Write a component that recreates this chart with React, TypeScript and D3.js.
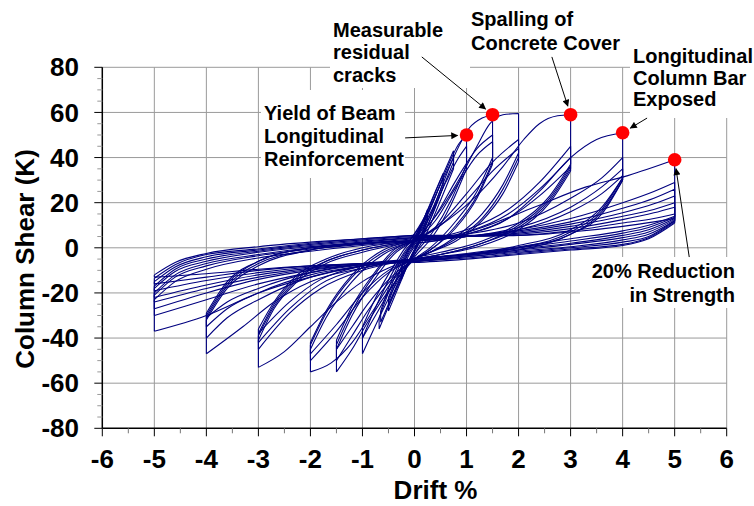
import React, { useMemo } from 'react'
import * as d3 from 'd3'

type Pt = [number, number]

// hysteresis cycles, grouped by target drift: [drift %, shear K]
// a repeated drift value means a vertical unloading step
const cycles025: Pt[][] = [
  [[-0.05, 0], [0.1, 8], [0.25, 17], [0.25, 14], [0.1, 4], [-0.05, -3], [-0.25, -14], [-0.25, -11], [-0.1, -3], [0.05, 2]],
  [[-0.05, 1], [0.1, 8], [0.25, 15], [0.25, 12], [0.1, 3], [-0.05, -3], [-0.25, -12], [-0.25, -9], [-0.1, -2], [0.05, 3]],
]

const cycles050: Pt[][] = [
  [[-0.05, 2], [0.2, 14], [0.4, 25], [0.55, 33], [0.55, 29], [0.35, 17], [0.1, 4], [-0.1, -6], [-0.3, -17], [-0.5, -28], [-0.5, -24], [-0.3, -12], [-0.1, -1], [0.05, 4]],
  [[-0.05, 3], [0.2, 13], [0.4, 23], [0.55, 31], [0.55, 27], [0.35, 15], [0.1, 3], [-0.1, -6], [-0.3, -16], [-0.5, -26], [-0.5, -22], [-0.3, -11], [-0.1, 0], [0.05, 4]],
]

const cycles075: Pt[][] = [
  [[-0.1, 3], [0.2, 14], [0.5, 30], [0.75, 43], [0.75, 38], [0.5, 24], [0.2, 7], [0, -2], [-0.3, -15], [-0.5, -26], [-0.68, -36], [-0.68, -31], [-0.45, -17], [-0.2, -4], [0, 3]],
  [[-0.1, 3], [0.2, 13], [0.5, 28], [0.75, 40], [0.75, 35], [0.5, 21], [0.2, 5], [0, -3], [-0.3, -15], [-0.5, -25], [-0.65, -33], [-0.65, -28], [-0.45, -15], [-0.2, -3], [0, 3]],
]

const cycles100: Pt[][] = [
  [[0, 3], [0.3, 17], [0.6, 34], [0.85, 46], [1, 50], [1, 37], [0.7, 21], [0.35, 7], [0, -3], [-0.4, -18], [-0.7, -32], [-1, -47], [-1, -40], [-0.7, -24], [-0.4, -10], [-0.1, 1], [0.1, 4]],
  [[0, 3], [0.3, 14], [0.6, 29], [0.85, 40], [1, 45], [1, 35], [0.7, 19], [0.35, 5], [0, -4], [-0.4, -16], [-0.7, -28], [-1, -40], [-1, -35], [-0.7, -20], [-0.4, -8], [-0.1, 2], [0.1, 4]],
]

const cycles150: Pt[][] = [
  [[0, 3], [0.4, 20], [0.75, 40], [1.05, 53], [1.3, 57.5], [1.5, 59], [1.5, 40], [1.2, 25], [0.8, 12], [0.3, 0], [0, -5], [-0.4, -16], [-0.9, -33], [-1.2, -45], [-1.5, -55], [-1.5, -45], [-1.2, -30], [-0.8, -15], [-0.4, -3], [0, 3]],
  [[0, 3], [0.4, 14], [0.8, 30], [1.2, 44], [1.5, 50], [1.5, 38], [1.2, 23], [0.8, 10], [0.3, -1], [0, -5], [-0.4, -13], [-0.9, -28], [-1.2, -39], [-1.5, -50], [-1.5, -43], [-1.2, -28], [-0.8, -13], [-0.4, -2], [0, 3]],
  [[0, 3], [0.4, 12], [0.8, 27], [1.2, 41], [1.5, 47], [1.5, 37], [1.2, 22], [0.8, 9], [0.3, -1], [0, -5], [-0.4, -12], [-0.9, -25], [-1.2, -35], [-1.5, -45], [-1.5, -41], [-1.2, -26], [-0.8, -12], [-0.4, -1], [0, 3]],
]

const cycles200: Pt[][] = [
  [[0, 3], [0.5, 17], [0.9, 32], [1.2, 45], [1.45, 55], [1.7, 59], [2, 59.5], [2, 42], [1.7, 28], [1.3, 15], [0.8, 5], [0.3, -2], [0, -5], [-0.4, -14], [-0.8, -28], [-1.2, -42], [-1.6, -51], [-2, -55], [-2, -45], [-1.7, -31], [-1.2, -15], [-0.6, -3], [0, 3]],
  [[0, 3], [0.5, 11], [1, 24], [1.5, 38], [2, 48], [2, 40], [1.7, 26], [1.3, 13], [0.8, 4], [0.3, -2], [0, -5], [-0.5, -11], [-1, -22], [-1.5, -37], [-2, -50], [-2, -43], [-1.7, -29], [-1.2, -13], [-0.6, -2], [0, 3]],
  [[0, 3], [0.5, 10], [1, 21], [1.5, 34], [2, 44], [2, 38], [1.7, 24], [1.3, 12], [0.8, 3], [0.3, -2], [0, -5], [-0.5, -10], [-1, -20], [-1.5, -34], [-2, -47], [-2, -42], [-1.7, -28], [-1.2, -12], [-0.6, -1], [0, 3]],
]

const cycles300: Pt[][] = [
  [[0, 3], [0.5, 10], [1.1, 21], [1.7, 36], [2.1, 48], [2.4, 55], [2.75, 58.5], [3, 59], [3, 37], [2.6, 23], [2, 11], [1.3, 3], [0.5, -2], [0, -4.5], [-0.5, -9], [-1, -15], [-1.5, -24], [-2, -35], [-2.5, -46], [-3, -53], [-3, -41], [-2.7, -27], [-2.3, -16], [-1.7, -7], [-1, -2], [0, 3]],
  [[0, 3], [1, 8], [1.8, 17], [2.4, 29], [3, 45], [3, 36], [2.6, 22], [2, 10], [1.3, 2], [0.5, -3], [0, -5], [-1, -10], [-1.8, -18], [-2.4, -29], [-3, -45], [-3, -39], [-2.7, -26], [-2.3, -15], [-1.7, -6], [-1, -1], [0, 3]],
  [[0, 3], [1, 7], [1.8, 15], [2.4, 26], [3, 40], [3, 35], [2.6, 21], [2, 9], [1.3, 2], [0.5, -3], [0, -5], [-1, -9], [-1.8, -16], [-2.4, -27], [-3, -42], [-3, -38], [-2.7, -25], [-2.3, -14], [-1.7, -6], [-1, -1], [0, 3]],
  [[0, 3], [1, 6], [1.8, 13], [2.4, 23], [3, 36], [3, 34], [2.6, 20], [2, 8], [1.3, 1], [0.5, -3], [0, -5], [-1, -8], [-1.8, -14], [-2.4, -24], [-3, -38], [-3, -36], [-2.7, -24], [-2.3, -13], [-1.7, -5], [-1, 0], [0, 3]],
]

const cycles400: Pt[][] = [
  [[0, 2], [1, 6], [1.8, 13], [2.4, 25], [3, 40], [3.5, 48], [4, 51], [4, 31], [3.6, 18], [3, 8], [2, 1], [1, -3], [0, -5], [-1, -9], [-2, -15], [-2.7, -24], [-3.3, -35], [-4, -47], [-4, -32], [-3.6, -18], [-3, -8], [-2, -1], [-1, 2], [0, 3]],
  [[0, 3], [1, 6], [2, 11], [3, 22], [3.6, 31], [4, 40], [4, 31], [3.6, 17], [3, 7], [2, 0], [1, -3], [0, -5], [-1, -8], [-2, -13], [-3, -23], [-3.6, -31], [-4, -40], [-4, -31], [-3.6, -17], [-3, -7], [-2, -1], [-1, 2], [0, 3]],
  [[0, 3], [1, 5], [2, 9], [3, 18], [3.6, 27], [4, 35], [4, 30], [3.6, 16], [3, 6], [2, 0], [1, -3], [0, -5], [-1, -8], [-2, -12], [-3, -20], [-3.6, -27], [-4, -35], [-4, -30], [-3.6, -16], [-3, -6], [-2, 0], [-1, 2], [0, 3]],
  [[0, 3], [1, 5], [2, 8], [3, 16], [3.6, 24], [4, 32], [4, 30], [3.6, 15], [3, 6], [2, -1], [1, -3], [0, -5], [-1, -7], [-2, -11], [-3, -18], [-3.6, -24], [-4, -31], [-4, -29], [-3.6, -15], [-3, -6], [-2, 0], [-1, 2], [0, 3]],
]

const cycles500: Pt[][] = [
  [[0, 2], [0.4, 3], [1.3, 9], [2.3, 18], [3.3, 27], [4.1, 32], [5, 39], [5, 14], [4.5, 10], [4, 7.5], [3, 4], [2, 0.5], [1, -2.5], [0, -5], [-1, -8], [-2, -13], [-3, -20], [-4, -30], [-5, -37], [-5, -23], [-4.6, -15], [-4, -9.5], [-3, -4.5], [-2, -1.5], [-1, 1], [0, 3]],
  [[0, 3], [1, 5], [2, 8], [3, 13], [4, 20], [4.6, 25], [5, 29], [5, 13.5], [4.5, 9], [4, 6.5], [3, 3], [2, 0], [1, -3], [0, -5.5], [-1, -7.5], [-2, -11], [-3, -16], [-4, -23], [-5, -30], [-5, -21], [-4.6, -13], [-4, -8], [-3, -3.5], [-2, -0.5], [-1, 1.5], [0, 3.5]],
  [[0, 3.5], [1, 5], [2, 7.5], [3, 11.5], [4, 17.5], [4.6, 22], [5, 26], [5, 13], [4.5, 8], [4, 5.5], [3, 2], [2, -0.5], [1, -3.5], [0, -5.5], [-1, -7.5], [-2, -10], [-3, -14], [-4, -20], [-5, -27], [-5, -20], [-4.6, -12], [-4, -7], [-3, -3], [-2, 0], [-1, 2], [0, 4]],
  [[0, 4], [1, 5], [2, 7], [3, 10.5], [4, 15.5], [4.6, 19.5], [5, 23], [5, 12.5], [4.5, 7], [4, 4.5], [3, 1.5], [2, -1], [1, -3.5], [0, -6], [-1, -7.5], [-2, -9.5], [-3, -13], [-4, -18], [-5, -24], [-5, -18], [-4.6, -10.5], [-4, -6], [-3, -2], [-2, 0.5], [-1, 2.5], [0, 4.5]],
  [[0, 4.5], [1, 5], [2, 6.5], [3, 9.5], [4, 14], [4.6, 17], [5, 20], [5, 12], [4.5, 6], [4, 3.5], [3, 0.5], [2, -1.5], [1, -4], [0, -6], [-1, -7], [-2, -9], [-3, -12], [-4, -16.5], [-5, -22], [-5, -17], [-4.6, -9.5], [-4, -5], [-3, -1.5], [-2, 1], [-1, 3], [0, 4.5]],
  [[0, 4.5], [1, 5], [2, 6], [3, 8.5], [4, 12.5], [4.6, 15.5], [5, 18], [5, 12], [4.5, 5], [4, 2.5], [3, 0], [2, -2], [1, -4], [0, -6], [-1, -7], [-2, -8.5], [-3, -11], [-4, -14.5], [-5, -19], [-5, -15], [-4.6, -8.5], [-4, -4], [-3, -1], [-2, 1.5], [-1, 3.5], [0, 5]],
  [[0, 5], [1, 5], [2, 5.5], [3, 7.5], [4, 11], [4.6, 13], [5, 15], [5, 11.5], [4.5, 4.5], [4, 1.5], [3, -0.5], [2, -2.5], [1, -4.5], [0, -6], [-1, -7], [-2, -8], [-3, -10], [-4, -13], [-5, -16], [-5, -13.5], [-4.6, -7.5], [-4, -3], [-3, -0.5], [-2, 2], [-1, 4], [0, 5.5]],
  [[0, 5.5], [1, 5.5], [2, 5.5], [3, 7], [4, 9.5], [4.6, 11.5], [5, 13], [5, 11], [4.5, 4], [4, 1], [3, -1], [2, -3], [1, -5], [0, -6.5], [-1, -7], [-2, -8], [-3, -9.5], [-4, -11.5], [-5, -13], [-5, -12], [-4.6, -6.5], [-4, -2.5], [-3, 0.5], [-2, 2.5], [-1, 4], [0, 5.5]],
]

const driftTicks = [-6, -5, -4, -3, -2, -1, 0, 1, 2, 3, 4, 5, 6]
const shearTicks = [-80, -60, -40, -20, 0, 20, 40, 60, 80]

// damage milestones (red dots) and where their callout arrows start
const milestoneDrift = [1, 1.5, 3, 4, 5]
const milestoneShear = [50, 59, 59, 51, 39]
const calloutTail: Pt[] = [[-0.18, 48.7], [0.14, 84.6], [2.64, 84.6], [4.47, 57.5], [5.28, -4.1]]

const notes = [
  { lines: ['Yield of Beam', 'Longitudinal', 'Reinforcement'], x: 264, y: 120, dy: 23, anchor: 'start', box: [261, 90, 144, 88] },
  { lines: ['Measurable', 'residual', 'cracks'], x: 333, y: 36.5, dy: 22.6, anchor: 'start', box: [330, 8, 140, 80] },
  { lines: ['Spalling of', 'Concrete Cover'], x: 471, y: 26, dy: 24, anchor: 'start', box: null },
  { lines: ['Longitudinal', 'Column Bar', 'Exposed'], x: 633, y: 63, dy: 21.5, anchor: 'start', box: [630, 40, 120, 78] },
  { lines: ['20% Reduction', 'in Strength'], x: 735, y: 278, dy: 23.5, anchor: 'end', box: [580, 257, 160, 51] },
]

const FONT = '"Liberation Sans", Arial, Helvetica, sans-serif'
const LINE = '#00007f'

export default function App() {
  const width = 754
  const height = 506

  const x = d3.scaleLinear().domain([-6, 6]).range([102.3, 726.7])
  const y = d3.scaleLinear().domain([-80, 80]).range([428.3, 67.3])

  const paths = useMemo(() => {
    const curve = d3
      .line<Pt>()
      .x((d) => x(d[0]))
      .y((d) => y(d[1]))
      .curve(d3.curveMonotoneX)

    const cyclePath = (pts: Pt[]) => {
      let d = ''
      let run: Pt[] = [pts[0]]
      for (let i = 1; i < pts.length; i++) {
        const p = pts[i]
        const prev = pts[i - 1]
        if (p[0] === prev[0]) {
          // vertical unloading step
          if (run.length > 1) d += curve(run)
          d += `M${x(prev[0])},${y(prev[1])}L${x(p[0])},${y(p[1])}`
          run = [p]
        } else {
          run.push(p)
        }
      }
      if (run.length > 1) d += curve(run)
      return d
    }

    const all = [
      ...cycles025, ...cycles050, ...cycles075, ...cycles100, ...cycles150,
      ...cycles200, ...cycles300, ...cycles400, ...cycles500,
    ]
    return all.map(cyclePath)
  }, [])

  const minorY = d3.range(-80, 81, 5).filter((v) => v % 20 !== 0)
  const minorX = d3.range(-5.5, 6, 1)

  const arrows = milestoneDrift.map((d, i) => {
    const hx = x(d)
    const hy = y(milestoneShear[i])
    const tx = x(calloutTail[i][0])
    const ty = y(calloutTail[i][1])
    const len = Math.hypot(hx - tx, hy - ty)
    const k = (len - 9) / len
    return { x1: tx, y1: ty, x2: tx + (hx - tx) * k, y2: ty + (hy - ty) * k }
  })

  return (
    <div style={{ position: 'absolute', left: 0, top: 0 }}>
      <svg width={width} height={height} style={{ display: 'block', background: '#fff' }}>
        <defs>
          <marker id="arrowhead" viewBox="0 0 10 10" refX="9" refY="5" markerWidth="9" markerHeight="7" orient="auto" markerUnits="userSpaceOnUse">
            <path d="M0,0L10,5L0,10z" fill="#000" />
          </marker>
        </defs>

        {/* grid */}
        <g stroke="#9a9a9a" strokeWidth={1}>
          {driftTicks.filter((t) => t > -6).map((t) => (
            <line key={`gx${t}`} x1={x(t)} x2={x(t)} y1={y(-80)} y2={y(80)} />
          ))}
          {shearTicks.filter((t) => t > -80).map((t) => (
            <line key={`gy${t}`} x1={x(-6)} x2={x(6)} y1={y(t)} y2={y(t)} />
          ))}
        </g>

        {/* white boxes behind the callout text */}
        {notes.map((n, i) =>
          n.box ? <rect key={`b${i}`} x={n.box[0]} y={n.box[1]} width={n.box[2]} height={n.box[3]} fill="#fff" /> : null
        )}

        {/* hysteresis loops */}
        <g fill="none" stroke={LINE} strokeWidth={1.1}>
          {paths.map((d, i) => (
            <path key={i} d={d} />
          ))}
        </g>

        {/* axes */}
        <g stroke="#000">
          <line x1={x(-6)} x2={x(-6)} y1={y(-80)} y2={y(80)} strokeWidth={1.5} />
          <line x1={x(-6)} x2={x(6)} y1={y(-80)} y2={y(-80)} strokeWidth={1.5} />
          {shearTicks.map((t) => (
            <line key={`ty${t}`} x1={x(-6) - 8} x2={x(-6)} y1={y(t)} y2={y(t)} />
          ))}
          {minorY.map((t) => (
            <line key={`my${t}`} x1={x(-6) - 5} x2={x(-6)} y1={y(t)} y2={y(t)} stroke="#999" />
          ))}
          {driftTicks.map((t) => (
            <line key={`tx${t}`} x1={x(t)} x2={x(t)} y1={y(-80)} y2={y(-80) + 8} />
          ))}
          {minorX.map((t) => (
            <line key={`mx${t}`} x1={x(t)} x2={x(t)} y1={y(-80)} y2={y(-80) + 5} stroke="#777" />
          ))}
        </g>

        <g fontFamily={FONT} fontWeight="bold" fontSize={26} fill="#000">
          {shearTicks.map((t) => (
            <text key={`ly${t}`} x={79} y={y(t)} dy="0.35em" textAnchor="end">{t}</text>
          ))}
          {driftTicks.map((t) => (
            <text key={`lx${t}`} x={x(t)} y={468} textAnchor="middle">{t}</text>
          ))}
          <text x={435.5} y={499} textAnchor="middle">Drift %</text>
          <text transform="translate(34,259) rotate(-90)" textAnchor="middle">Column Shear (K)</text>
        </g>

        {/* callout arrows */}
        <g stroke="#000" strokeWidth={1}>
          {arrows.map((a, i) => (
            <line key={`a${i}`} x1={a.x1} y1={a.y1} x2={a.x2} y2={a.y2} markerEnd="url(#arrowhead)" />
          ))}
        </g>

        {/* milestone dots */}
        {milestoneDrift.map((d, i) => (
          <circle key={`m${i}`} cx={x(d)} cy={y(milestoneShear[i])} r={6.8} fill="#ff0000" />
        ))}

        <g fontFamily={FONT} fontWeight="bold" fontSize={20} fill="#000">
          {notes.map((n, i) => (
            <text key={`n${i}`} x={n.x} y={n.y} textAnchor={n.anchor as any}>
              {n.lines.map((l, j) => (
                <tspan key={j} x={n.x} y={n.y + j * n.dy}>{l}</tspan>
              ))}
            </text>
          ))}
        </g>
      </svg>
    </div>
  )
}
